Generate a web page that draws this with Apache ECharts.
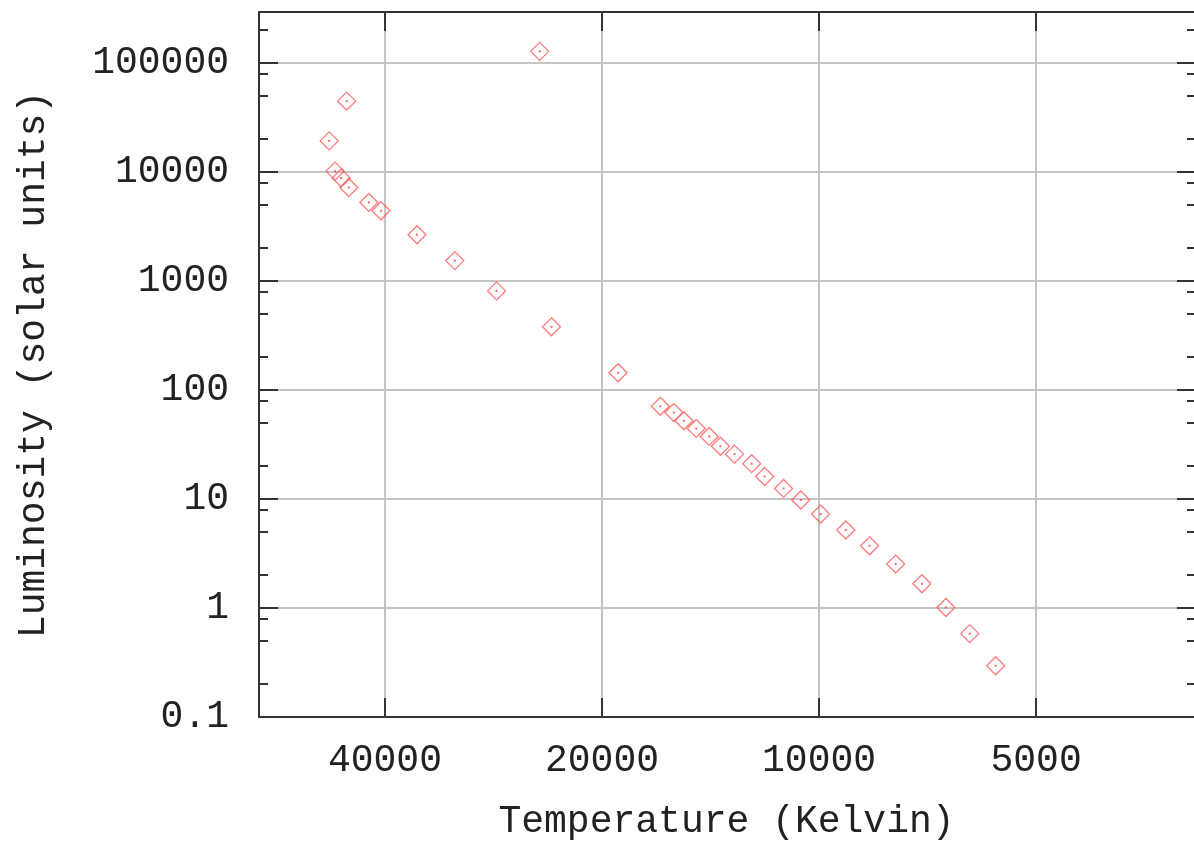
<!DOCTYPE html>
<html>
<head>
<meta charset="utf-8">
<title>Luminosity vs Temperature</title>
<script src="https://cdn.jsdelivr.net/npm/echarts@6/dist/echarts.min.js"></script>
<style>
  html, body { margin: 0; padding: 0; background: #fff; }
  #chart { width: 1194px; height: 846px; }
</style>
</head>
<body>
<div id="chart"></div>
<script>
  // star data
  var temperature = [47800, 45200, 46900, 46000, 44900, 42100, 40500, 36100, 32000, 28000,
    24400, 23500, 19000, 16600, 15900, 15400, 14800, 14200, 13700, 13100,
    12400, 11900, 11200, 10600, 9950, 9180, 8510, 7830, 7200, 6670, 6180, 5690]
  var luminosity = [19300, 44700, 10200, 8810, 7220, 5260, 4410, 2660, 1540, 812,
    128000, 380, 144, 70.9, 62.1, 52.2, 44.4, 37.5, 30.5, 25.8,
    21.1, 16.1, 12.5, 9.79, 7.29, 5.20, 3.72, 2.53, 1.67, 1.01, 0.582, 0.295]

  var xTicks = [40000, 20000, 10000, 5000]
  var yTicks = [0.1, 1, 10, 100, 1000, 10000, 100000]
  var yMinorTicks = [0.2, 0.5, 0.8, 2, 5, 8, 20, 50, 80, 200, 500, 800,
    2000, 5000, 8000, 20000, 50000, 80000, 200000]
  var xRange = [3020, 59800]
  var yRange = [0.1, 294000]

  var lg = Math.log10
  var font = 'Liberation Mono'
  var frameColor = '#333'
  var gridColor = '#c4c4c4'

  var points = temperature.map(function(t, i) {
    return [lg(t), lg(luminosity[i])]
  })

  function fmt(v) {
    var val = Math.pow(10, v)
    return val < 1 ? val.toFixed(1) : String(Math.round(val))
  }

  function xAxisOf(position, withLabels) {
    return {
      type: 'value',
      position: position,
      inverse: true,
      min: lg(xRange[0]),
      max: lg(xRange[1]),
      name: withLabels ? 'Temperature (Kelvin)' : '',
      nameLocation: 'middle',
      nameGap: 86,
      nameTextStyle: { fontFamily: font, fontSize: 38, color: '#222' },
      axisLine: { show: true, onZero: false, lineStyle: { color: frameColor, width: 2 } },
      axisTick: {
        show: true, inside: true, length: 19,
        customValues: xTicks.map(lg),
        lineStyle: { color: frameColor, width: 2 }
      },
      axisLabel: {
        show: withLabels,
        customValues: xTicks.map(lg),
        formatter: fmt,
        margin: 25,
        fontFamily: font, fontSize: 38, color: '#222'
      },
      splitLine: { show: withLabels, lineStyle: { color: gridColor, width: 2 } }
    }
  }

  function yAxisOf(position, ticks, len, withLabels) {
    return {
      type: 'value',
      position: position,
      min: lg(yRange[0]),
      max: lg(yRange[1]),
      name: withLabels ? 'Luminosity (solar units)' : '',
      nameLocation: 'middle',
      nameGap: 206,
      nameTextStyle: { fontFamily: font, fontSize: 38, color: '#222' },
      // right side of the frame falls just outside the picture
      axisLine: { show: position === 'left', onZero: false, lineStyle: { color: frameColor, width: 2 } },
      axisTick: {
        show: true, inside: true, length: len,
        customValues: ticks.map(lg),
        lineStyle: { color: frameColor, width: 2 }
      },
      axisLabel: {
        show: withLabels,
        customValues: ticks.map(lg),
        formatter: fmt,
        margin: 30,
        fontFamily: font, fontSize: 38, color: '#222'
      },
      splitLine: { show: withLabels, lineStyle: { color: gridColor, width: 2 } }
    }
  }

  var chart = echarts.init(document.getElementById('chart'), null, { renderer: 'canvas' })
  chart.setOption({
    animation: false,
    backgroundColor: '#fff',
    grid: { left: 259, right: 0, top: 12, bottom: 127, containLabel: false },
    xAxis: [
      xAxisOf('bottom', true),
      xAxisOf('top', false)
    ],
    yAxis: [
      yAxisOf('left', yTicks, 19, true),
      yAxisOf('left', yMinorTicks, 9, false),
      yAxisOf('right', yTicks, 17, false),
      yAxisOf('right', yMinorTicks, 7, false)
    ],
    series: [
      {
        type: 'scatter',
        xAxisIndex: 0,
        yAxisIndex: 0,
        data: points,
        symbol: 'diamond',
        symbolSize: 18,
        itemStyle: { color: 'transparent', borderColor: '#ff5a5a', borderWidth: 1.3 }
      },
      {
        type: 'scatter',
        xAxisIndex: 0,
        yAxisIndex: 0,
        data: points,
        symbol: 'rect',
        symbolSize: 2,
        itemStyle: { color: '#ff4040' }
      }
    ]
  })
</script>
</body>
</html>
